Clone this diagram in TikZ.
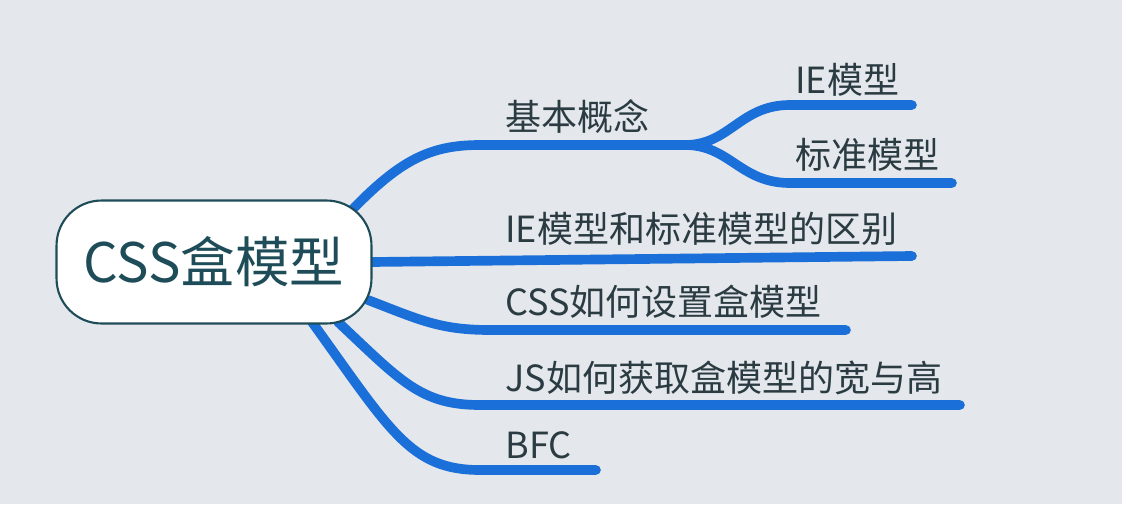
\documentclass[tikz,border=0pt]{standalone}
\usepackage{fontspec}
\setmainfont{Noto Sans CJK SC}
\definecolor{bg}{HTML}{E4E8EC}
\definecolor{br}{HTML}{1B6FD8}
\definecolor{tx}{HTML}{2B3B42}
\definecolor{rootb}{HTML}{1E4C58}
\begin{document}
\begin{tikzpicture}[x=0.02cm,y=-0.02cm,
  branch/.style={draw=br,line width=5.5pt,line cap=round},
  lab/.style={text=tx,font=\fontsize{20.5}{20.5}\selectfont,inner sep=0pt},
  root/.style={draw=rootb,line width=1.2pt,fill=white,rounded corners=0.9cm,minimum width=6.3cm,minimum height=2.46cm,text=rootb,font=\fontsize{31}{31}\selectfont}]
\fill[bg] (0,0) rectangle (1122,504);
\useasboundingbox (0,0) rectangle (1122,504);
\coordinate (r1) at (350,212);
\coordinate (r2) at (372,262);
\coordinate (r3) at (368,300);
\coordinate (r4) at (338,322);
\coordinate (r5) at (312,322);
\coordinate (k) at (685,145);
\coordinate (k1) at (912,105);
\coordinate (k2) at (952,183);
\coordinate (e2) at (912,256);
\coordinate (e3) at (846,330);
\coordinate (e4) at (960,405);
\coordinate (e5) at (596,470);
\draw[branch] (r1) .. controls (400,160) and (430,145) .. (480,145) -- (k);
\draw[branch] (k) .. controls (730,145) and (740,105) .. (790,105) -- (k1);
\draw[branch] (k) .. controls (730,145) and (740,183) .. (790,183) -- (k2);
\draw[branch] (r2) -- (e2);
\draw[branch] (r3) .. controls (420,320) and (440,330) .. (490,330) -- (e3);
\draw[branch] (r4) .. controls (400,380) and (420,405) .. (480,405) -- (e4);
\draw[branch] (r5) .. controls (390,430) and (410,470) .. (480,470) -- (e5);
\node[root] (root) at (214,262) {CSS盒模型};
\node[lab,anchor=west] (t1) at (505,117) {基本概念};
\node[lab,anchor=west] (t11) at (795,80) {IE模型};
\node[lab,anchor=west] (t12) at (795,155) {标准模型};
\node[lab,anchor=west] (t2) at (505,229) {IE模型和标准模型的区别};
\node[lab,anchor=west] (t3) at (505,302) {CSS如何设置盒模型};
\node[lab,anchor=west] (t4) at (505,378) {JS如何获取盒模型的宽与高};
\node[lab,anchor=west] (t5) at (505,445) {BFC};
\end{tikzpicture}
\end{document}
